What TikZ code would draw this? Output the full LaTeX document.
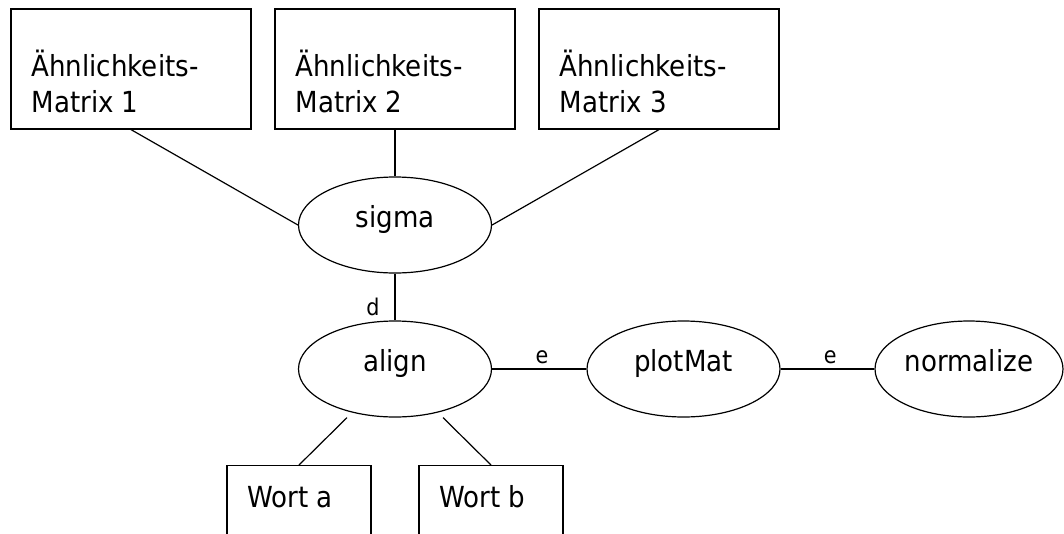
\documentclass[tikz,border=0pt]{standalone}
\usepackage{fontspec}
\setmainfont{DejaVu Sans Condensed}
\usetikzlibrary{shapes.geometric,calc}
\begin{document}
\begin{tikzpicture}[x=1pt,y=-1pt,
  every node/.style={font=\fontsize{29}{35}\selectfont},
  matbox/.style={draw,line width=1.2pt,rectangle,minimum width=240pt,minimum height=120pt,inner sep=0pt},
  wortbox/.style={draw,line width=1.2pt,rectangle,minimum width=144pt,minimum height=100pt,inner sep=0pt,anchor=north},
  op/.style={draw,line width=1.2pt,ellipse,minimum width=193pt,minimum height=96pt,inner sep=0pt,text height=0.75em,text depth=0.25em},
  txt/.style={anchor=base west,inner sep=0pt},
  conn/.style={line width=1.2pt},
  lab/.style={font=\fontsize{23}{27}\selectfont,inner sep=0pt}
]
\useasboundingbox (0,0) rectangle (1064,533);
\clip (0,0) rectangle (1064,533);

% similarity matrices
\node[matbox] (m1) at (131,69) {};
\node[matbox] (m2) at (395,69) {};
\node[matbox] (m3) at (659,69) {};
\foreach \m/\k in {m1/1,m2/2,m3/3}{
  \node[txt] (\m a) at ($(\m.north west)+(21,68)$) {Ähnlichkeits-};
  \node[txt] (\m b) at ($(\m.north west)+(21,104)$) {Matrix \k};
}

% operations
\node[op] (sigma) at (395,225) {sigma};
\node[op] (align) at (395,369) {align};
\node[op] (plot) at (683.5,369) {plotMat};
\node[op,minimum width=188pt] (norm) at (969,369) {normalize};

% words
\node[wortbox] (wa) at (299,465) {};
\node[wortbox] (wb) at (491,465) {};
\node[txt] (wat) at ($(wa.north west)+(21,42)$) {Wort a};
\node[txt] (wbt) at ($(wb.north west)+(21,42)$) {Wort b};

% connectors
\draw[conn] (m1.south) -- (sigma.west);
\draw[conn] (m2.south) -- (sigma.north);
\draw[conn] (m3.south) -- (sigma.east);
\draw[conn] (sigma.south) -- node[lab,pos=0.72,anchor=east,xshift=-15pt] (ld) {d} (align.north);
\draw[conn] (align.east) -- node[lab,pos=0.53,anchor=base,yshift=6pt] (le1) {e} (plot.west);
\draw[conn] (plot.east) -- node[lab,pos=0.53,anchor=base,yshift=6pt] (le2) {e} (norm.west);

\coordinate (aa) at ($(align.south)+(-48,0)$);
\coordinate (ab) at ($(align.south)+(48,0)$);
\draw[conn] (aa) -- (wa.north);
\draw[conn] (ab) -- (wb.north);
\end{tikzpicture}
\end{document}
